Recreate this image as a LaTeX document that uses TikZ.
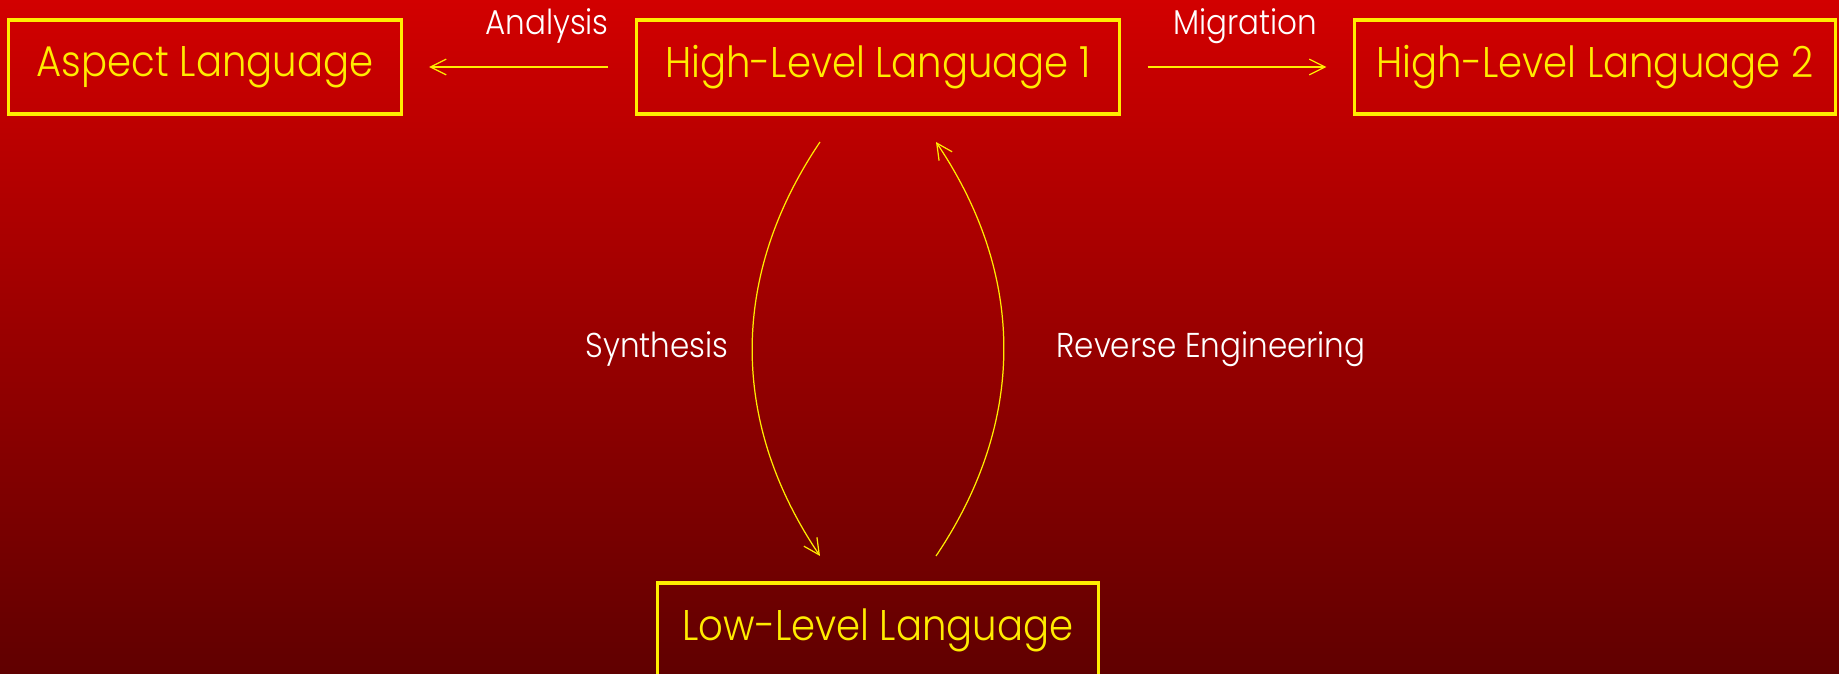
\documentclass[tikz,border=0pt]{standalone}
\usepackage{fontspec}
\setmainfont{Poppins Light}[FakeStretch=0.9]
\usetikzlibrary{arrows.meta}
\definecolor{bgtop}{RGB}{210,0,0}
\definecolor{bgbot}{RGB}{96,0,0}
\definecolor{gold}{RGB}{255,236,0}
\tikzset{
  langbox/.style={draw=gold, line width=0.9pt, text=gold, inner sep=0pt,
    minimum height=0.94cm, font=\fontsize{12.2}{14}\selectfont},
  steplabel/.style={text=white, inner sep=0pt, font=\fontsize{9.8}{11}\selectfont},
  flow/.style={draw=gold, line width=0.35pt, -{Straight Barb[length=4.5pt,width=4.5pt]}}
}
\begin{document}
\begin{tikzpicture}[x=0.01cm, y=-0.01cm]
  % background
  \shade[top color=bgtop, bottom color=bgbot] (0,0) rectangle (1839,674);
  \useasboundingbox (0,0) rectangle (1839,674);

  % languages
  \node[langbox, minimum width=3.92cm] (asp) at (205,67) {Aspect Language};
  \node[langbox, minimum width=4.83cm] (hl1) at (878,67) {High-Level Language 1};
  \node[langbox, minimum width=4.81cm] (hl2) at (1595,67) {High-Level Language 2};
  \node[langbox, minimum width=4.41cm] (ll) at (878,630) {Low-Level Language};

  % transformation names
  \node[steplabel] (ana) at (547,26) {Analysis};
  \node[steplabel] (mig) at (1245,26) {Migration};
  \node[steplabel] (syn) at (657,349) {Synthesis};
  \node[steplabel] (rev) at (1211,349) {Reverse Engineering};

  % arc end points
  \coordinate (synA) at (820,142);
  \coordinate (synB) at (820,556);
  \coordinate (revA) at (936,556);
  \coordinate (revB) at (936,142);

  % transformations
  \draw[flow, shorten <=7.5pt, shorten >=7.5pt] (hl1.west) -- (asp.east);
  \draw[flow, shorten <=7.5pt, shorten >=7.5pt] (hl1.east) -- (hl2.west);
  \draw[flow] (synA) to[bend right=34] (synB);
  \draw[flow] (revA) to[bend right=34] (revB);
\end{tikzpicture}
\end{document}
